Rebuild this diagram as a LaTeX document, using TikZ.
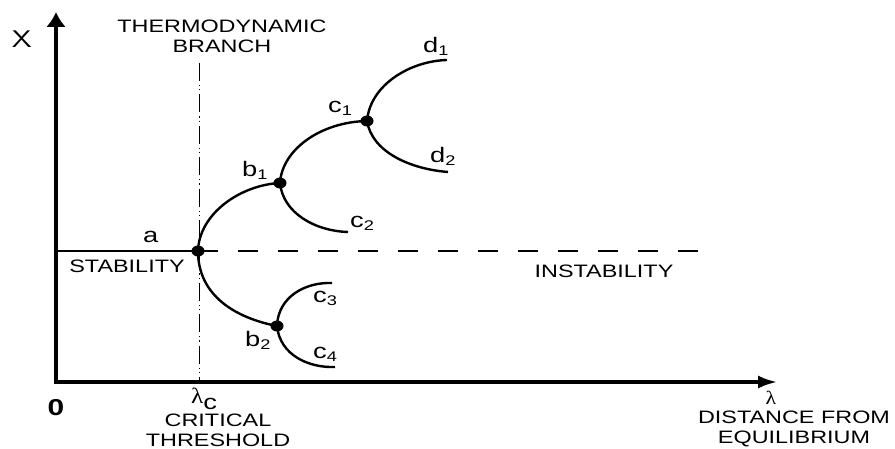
\documentclass[tikz,border=0pt]{standalone}
\usepackage{fontspec}
\usetikzlibrary{arrows.meta,shapes.geometric}
\newfontfamily\capsf[FakeStretch=1.3]{Liberation Sans}
\newfontfamily\lblf[FakeStretch=1.3]{Liberation Sans}
\newfontfamily\grf[FakeStretch=1.15]{Liberation Serif}
\newfontfamily\xf[FakeStretch=1.25]{lmsans10-regular.otf}
\newcommand{\sbs}[1]{\raisebox{-3pt}{\fontsize{14}{14}\selectfont #1}}
\begin{document}
\begin{tikzpicture}[x=1pt,y=-1pt,
  capst/.style={font=\capsf\fontsize{18}{20}\selectfont, inner sep=0pt, align=center},
  lbl/.style={font=\lblf\fontsize{21}{21}\selectfont, inner sep=0pt, anchor=base west},
  dot/.style={ellipse, fill=black, draw=none, minimum width=13pt, minimum height=11pt, inner sep=0pt},
  axis/.style={line width=4pt, line join=miter},
  branch/.style={line width=2.4pt},
  ref/.style={line width=2pt},
  thresh/.style={line width=1pt, dash pattern=on 18pt off 4pt on 1.2pt off 3pt on 1.2pt off 4pt}]
\useasboundingbox (0,0) rectangle (895,449);
\fill[white] (0,0) rectangle (895,449);
% coordinates
\coordinate (o) at (56,382);
\coordinate (ytip) at (56,12);
\coordinate (xtip) at (778,382);
\coordinate (s0) at (56,251);
\coordinate (s1) at (698,251);
\coordinate (t0) at (199,63);
\coordinate (t1) at (199,382);
% reference lines
\draw[thresh] (t0) -- (t1);
\draw[ref] (s0) -- (198,251);
\draw[ref, dash pattern=on 20pt off 20pt] (198,251) -- (s1);
% axes
\draw[axis, {Latex[length=15pt,width=20pt]}-{Latex[length=20pt,width=13pt]}] (ytip) -- (o) -- (xtip);
% dots
\node[dot] (a) at (198,251) {};
\node[dot] (b1) at (280,183) {};
\node[dot] (c1) at (367,121) {};
\node[dot] (b2) at (277,326) {};
\coordinate (c2e) at (348,232);
\coordinate (d1e) at (447,60);
\coordinate (d2e) at (448,172);
\coordinate (c3e) at (332,283);
\coordinate (c4e) at (335,367);
% branches
\draw[branch] (a.center) .. controls (199,214) and (240,185) .. (b1.center);
\draw[branch] (a.center) .. controls (198,296) and (236,318) .. (b2.center);
\draw[branch] (b1.center) .. controls (282,150) and (320,122) .. (c1.center);
\draw[branch] (b1.center) .. controls (283,213) and (315,231) .. (c2e);
\draw[branch] (c1.center) .. controls (370,85) and (410,61) .. (d1e);
\draw[branch] (c1.center) .. controls (372,152) and (410,169) .. (d2e);
\draw[branch] (b2.center) .. controls (278,297) and (305,282) .. (c3e);
\draw[branch] (b2.center) .. controls (280,356) and (310,368) .. (c4e);
% labels
\node[font=\xf\fontsize{24}{24}\selectfont, inner sep=0pt, anchor=base] (xl) at (22,48) {X};
\node[capst] (thb) at (222,36) {THERMODYNAMIC\\BRANCH};
\node[capst, anchor=base] (stab) at (127,273) {STABILITY};
\node[capst, anchor=base] (inst) at (604,278) {INSTABILITY};
\node[capst] (crit) at (218,430) {CRITICAL\\THRESHOLD};
\node[capst] (dist) at (794,429) {DISTANCE FROM\\EQUILIBRIUM};
\node[font=\capsf\bfseries\fontsize{23}{23}\selectfont, inner sep=0pt, anchor=base] (zero) at (56,415) {0};
\node[inner sep=0pt, anchor=base west] (lamc) at (191,403) {\grf\fontsize{22}{22}\selectfont λ\raisebox{-6pt}{\lblf\fontsize{21}{21}\selectfont c}};
\node[inner sep=0pt, anchor=base] (lam) at (771,404) {\grf\fontsize{19}{19}\selectfont λ};
\node[lbl] (la) at (143,243) {a};
\node[lbl] (lb1) at (242,177) {b\sbs{1}};
\node[lbl] (lc1) at (328,113) {c\sbs{1}};
\node[lbl] (lc2) at (350,228) {c\sbs{2}};
\node[lbl] (ld1) at (423,53) {d\sbs{1}};
\node[lbl] (ld2) at (430,163) {d\sbs{2}};
\node[lbl] (lc3) at (313,302) {c\sbs{3}};
\node[lbl] (lc4) at (313,358) {c\sbs{4}};
\node[lbl] (lb2) at (245,346) {b\sbs{2}};
\end{tikzpicture}
\end{document}
